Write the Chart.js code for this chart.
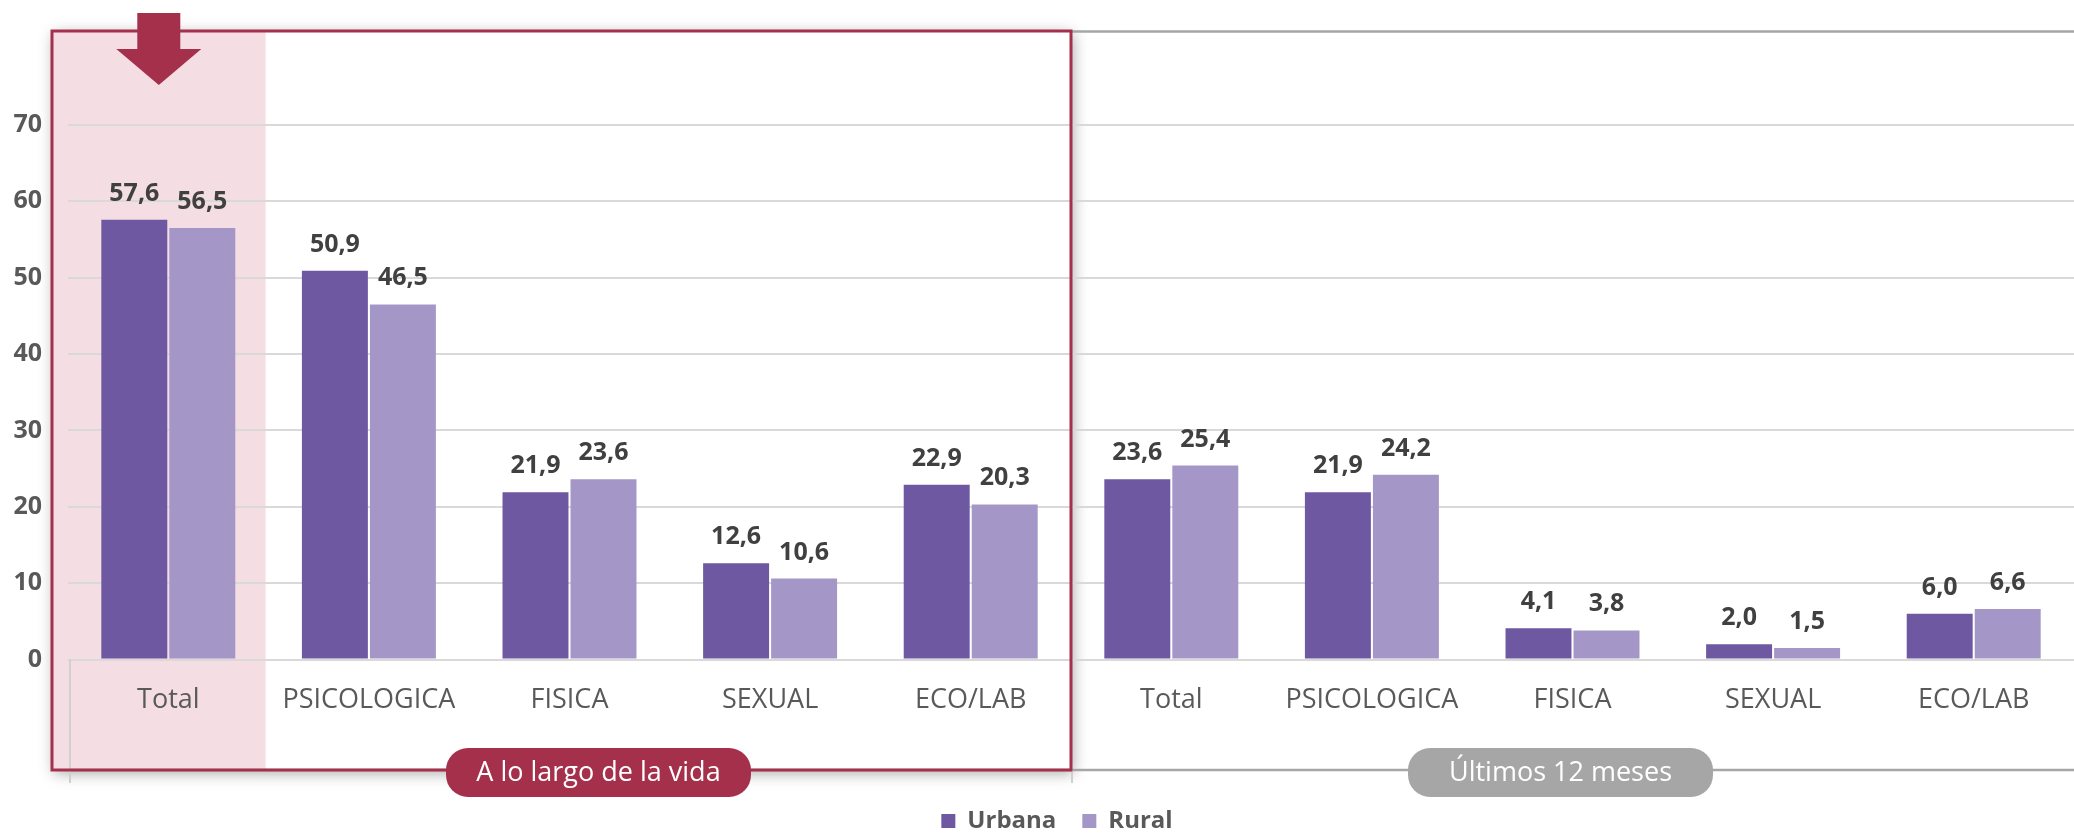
<!DOCTYPE html>
<html>
<head>
<meta charset="utf-8">
<script src="https://cdn.jsdelivr.net/npm/chart.js@4.4.0/dist/chart.umd.min.js"></script>
<style>
  html, body { margin: 0; padding: 0; background: #fff; }
  #wrap { width: 2074px; height: 834px; }
</style>
</head>
<body>
<div id="wrap"><canvas id="chart"></canvas></div>
<script>
// data
const categories = ['Total', 'PSICOLOGICA', 'FISICA', 'SEXUAL', 'ECO/LAB',
                    'Total', 'PSICOLOGICA', 'FISICA', 'SEXUAL', 'ECO/LAB'];
const groups = ['A lo largo de la vida', 'Últimos 12 meses'];
const urbana = [57.6, 50.9, 21.9, 12.6, 22.9, 23.6, 21.9, 4.1, 2.0, 6.0];
const rural  = [56.5, 46.5, 23.6, 10.6, 20.3, 25.4, 24.2, 3.8, 1.5, 6.6];
const yTicks = [0, 10, 20, 30, 40, 50, 60, 70];

const FONT = "'Open Sans', 'Noto Sans', sans-serif";
const RED = '#a5304c';
const PINK = '#f4dde3';

// frame, highlight band, arrow and group pills
const decor = {
  id: 'decor',
  box(chart) {
    const x = chart.scales.x, ca = chart.chartArea;
    const w = x.getPixelForValue(1) - x.getPixelForValue(0);
    return {
      l: ca.left - 16,
      t: ca.top - 10,
      r: x.getPixelForValue(4) + w / 2,
      b: ca.bottom + 110.5,
      bandR: x.getPixelForValue(0) + w / 2 - 3
    };
  },
  beforeDraw(chart) {
    const ctx = chart.ctx, b = this.box(chart);
    ctx.save();
    // soft shadow outside the red box only
    ctx.beginPath();
    ctx.rect(0, 0, chart.width, chart.height);
    ctx.rect(b.l, b.t, b.r - b.l, b.b - b.t);
    ctx.clip('evenodd');
    ctx.shadowColor = 'rgba(0,0,0,0.35)';
    ctx.shadowBlur = 14;
    ctx.shadowOffsetX = 2;
    ctx.shadowOffsetY = 3;
    ctx.fillStyle = '#fff';
    ctx.fillRect(b.l, b.t, b.r - b.l, b.b - b.t);
    ctx.restore();
    // pink band behind the first category
    ctx.save();
    ctx.fillStyle = PINK;
    ctx.fillRect(b.l, b.t, b.bandR - b.l, b.b - b.t);
    ctx.restore();
  },
  afterDatasetsDraw(chart) {
    const ctx = chart.ctx;
    ctx.save();
    ctx.font = 'bold 25px ' + FONT;
    ctx.fillStyle = '#404040';
    ctx.textAlign = 'center';
    ctx.textBaseline = 'alphabetic';
    chart.data.datasets.forEach((ds, i) => {
      chart.getDatasetMeta(i).data.forEach((bar, j) => {
        ctx.fillText(ds.data[j].toFixed(1).replace('.', ','), bar.x, bar.y - 19);
      });
    });
    ctx.restore();
  },
  afterDraw(chart) {
    const ctx = chart.ctx, b = this.box(chart), ca = chart.chartArea;
    const x = chart.scales.x;
    ctx.save();
    // gray outer lines
    ctx.strokeStyle = '#a6a6a6';
    ctx.lineWidth = 2.5;
    ctx.beginPath();
    ctx.moveTo(b.r, b.t + 0.5); ctx.lineTo(chart.width, b.t + 0.5);
    ctx.moveTo(ca.left + 2, b.b); ctx.lineTo(chart.width, b.b);
    ctx.stroke();
    // group separators on category axis
    ctx.strokeStyle = '#d0d0d0';
    ctx.lineWidth = 2;
    ctx.beginPath();
    ctx.moveTo(ca.left + 2, ca.bottom); ctx.lineTo(ca.left + 2, b.b + 13);
    ctx.moveTo(b.r + 1, b.b); ctx.lineTo(b.r + 1, b.b + 13);
    ctx.stroke();
    // red box
    ctx.strokeStyle = RED;
    ctx.lineWidth = 3;
    ctx.strokeRect(b.l, b.t, b.r - b.l, b.b - b.t);
    // arrow over the highlighted category
    const ax = (b.l + b.bandR) / 2;
    ctx.fillStyle = RED;
    ctx.beginPath();
    ctx.moveTo(ax - 21.5, 13);
    ctx.lineTo(ax + 21.5, 13);
    ctx.lineTo(ax + 21.5, 49);
    ctx.lineTo(ax + 42.5, 49);
    ctx.lineTo(ax, 85);
    ctx.lineTo(ax - 42.5, 49);
    ctx.lineTo(ax - 21.5, 49);
    ctx.closePath();
    ctx.fill();
    // group label pills
    const pillColors = [RED, '#a6a6a6'];
    const pillShift = [29, -12];
    const cy = ca.bottom + 113;
    ctx.font = '27px ' + FONT;
    ctx.textAlign = 'center';
    ctx.textBaseline = 'middle';
    groups.forEach((g, i) => {
      const cx = (x.getPixelForValue(i * 5) + x.getPixelForValue(i * 5 + 4)) / 2 + pillShift[i];
      ctx.fillStyle = pillColors[i];
      ctx.beginPath();
      ctx.roundRect(cx - 152.5, cy - 24.5, 305, 49, 22);
      ctx.fill();
      ctx.fillStyle = '#fff';
      ctx.fillText(g, cx, cy + 1);
    });
    ctx.restore();
  },
  afterLayout(chart) {
    // nudge the legend to where it sits in the picture
    if (chart.legend) {
      chart.legend.left += 18;
      chart.legend.right += 18;
    }
  }
};

new Chart(document.getElementById('chart'), {
  type: 'bar',
  data: {
    labels: categories,
    datasets: [
      { label: 'Urbana', data: urbana, backgroundColor: '#6e58a2', borderWidth: 0,
        barPercentage: 0.97, categoryPercentage: 0.678 },
      { label: 'Rural', data: rural, backgroundColor: '#a497c8', borderWidth: 0,
        barPercentage: 0.97, categoryPercentage: 0.678 }
    ]
  },
  options: {
    responsive: true,
    maintainAspectRatio: false,
    animation: false,
    layout: { padding: { top: 41, left: 0, right: -4, bottom: -9 } },
    plugins: {
      legend: {
        position: 'bottom',
        labels: {
          boxWidth: 14,
          boxHeight: 14,
          padding: 26,
          color: '#595959',
          font: { family: FONT, size: 24, weight: 'bold' }
        }
      },
      tooltip: { enabled: false }
    },
    scales: {
      x: {
        grid: { display: false, drawTicks: false },
        border: { display: false },
        ticks: {
          color: '#595959',
          font: { family: FONT, size: 27 },
          padding: 25,
          maxRotation: 0,
          autoSkip: false
        },
        afterFit(s) { s.height = 123.5; }
      },
      y: {
        min: 0,
        max: 81,
        grid: {
          drawTicks: false,
          lineWidth: 2,
          color: c => (c.tick && yTicks.includes(c.tick.value)) ? '#d9d9d9' : 'rgba(0,0,0,0)'
        },
        border: { display: false },
        ticks: {
          stepSize: 10,
          padding: 26,
          color: '#595959',
          font: { family: FONT, size: 25, weight: 'bold' },
          callback: v => yTicks.includes(v) ? v : ''
        },
        afterFit(s) { s.width = 68; }
      }
    }
  },
  plugins: [decor]
});
</script>
</body>
</html>
